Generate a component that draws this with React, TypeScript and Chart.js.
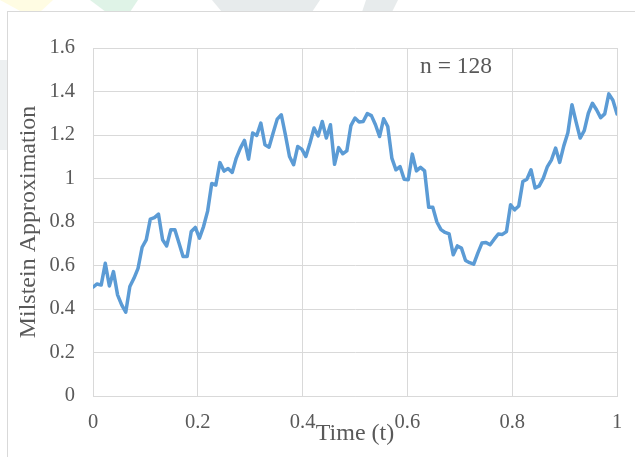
import React, { useEffect, useRef } from "react";
import { Chart, registerables } from "chart.js";

Chart.register(...registerables);

// ---- data ----
const N_STEPS = 128;
const milstein: number[] = [
  0.5, 0.515, 0.51, 0.61, 0.506, 0.572, 0.465, 0.419, 0.385, 0.503,
  0.541, 0.587, 0.684, 0.718, 0.813, 0.82, 0.836, 0.718, 0.69, 0.764,
  0.764, 0.703, 0.641, 0.641, 0.756, 0.775, 0.726, 0.779, 0.85, 0.977,
  0.97, 1.073, 1.034, 1.046, 1.028, 1.094, 1.14, 1.175, 1.089, 1.209,
  1.198, 1.255, 1.155, 1.144, 1.209, 1.273, 1.293, 1.201, 1.101, 1.063,
  1.147, 1.135, 1.101, 1.163, 1.232, 1.196, 1.262, 1.186, 1.247, 1.065,
  1.142, 1.114, 1.127, 1.243, 1.278, 1.26, 1.262, 1.298, 1.289, 1.247,
  1.193, 1.275, 1.239, 1.094, 1.04, 1.055, 0.997, 0.994, 1.112, 1.035,
  1.051, 1.035, 0.868, 0.868, 0.8, 0.765, 0.752, 0.745, 0.649, 0.69,
  0.68, 0.623, 0.613, 0.606, 0.657, 0.703, 0.706, 0.695, 0.721, 0.745,
  0.743, 0.756, 0.879, 0.856, 0.874, 0.986, 0.997, 1.04, 0.956, 0.966,
  1.002, 1.055, 1.086, 1.14, 1.074, 1.15, 1.21, 1.339, 1.26, 1.186,
  1.22, 1.3, 1.346, 1.316, 1.28, 1.297, 1.389, 1.36, 1.297,
];
const times: number[] = milstein.map((_, i) => i / N_STEPS);

const xMin = 0;
const xMax = 1;
const xStep = 0.2;
const yMin = 0;
const yMax = 1.6;
const yStep = 0.2;

const xTitle = "Time (t)";
const yTitle = "Milstein Approximation";
const annotationText = "n = 128";

const FONT = "'Liberation Serif', 'Times New Roman', serif";
const TEXT = "#595959";
const GRID = "#D9D9D9";
const LINE = "#5B9BD5";

const fmt = (v: number | string) => String(Math.round(Number(v) * 10) / 10);

const decorPlugin = {
  id: "decor",
  beforeDraw(chart: any) {
    const { ctx, width, height } = chart;
    ctx.save();
    ctx.fillStyle = "#ffffff";
    ctx.fillRect(0, 0, width, height);
    const poly = (pts: number[][], color: string) => {
      ctx.beginPath();
      ctx.moveTo(pts[0][0], pts[0][1]);
      for (let i = 1; i < pts.length; i++) ctx.lineTo(pts[i][0], pts[i][1]);
      ctx.closePath();
      ctx.fillStyle = color;
      ctx.fill();
    };
    poly([[0, 0], [53, 0], [40, 12], [22, 12]], "#FFFCE3");
    poly([[90, 0], [138, 0], [130, 12], [106, 12]], "#DFF3E7");
    poly([[212, 0], [320, 0], [312, 12], [222, 12]], "#E7EBEC");
    poly([[366, 0], [398, 0], [392, 12], [362, 12]], "#E7EBEC");
    poly([[0, 60], [7, 60], [7, 150], [0, 150]], "#EDF0F1");
    ctx.fillStyle = "#ffffff";
    ctx.fillRect(7.5, 11.5, width, height);
    ctx.strokeStyle = GRID;
    ctx.lineWidth = 1;
    ctx.strokeRect(7.5, 11.5, width + 10, height + 10);
    ctx.restore();
  },
  afterDraw(chart: any) {
    const { ctx } = chart;
    ctx.save();
    ctx.font = `23.5px ${FONT}`;
    ctx.fillStyle = TEXT;
    ctx.textAlign = "left";
    ctx.textBaseline = "alphabetic";
    ctx.fillText(annotationText, 420, 73);
    ctx.restore();
  },
};

export default function App() {
  const canvasRef = useRef<HTMLCanvasElement | null>(null);

  useEffect(() => {
    const canvas = canvasRef.current;
    if (!canvas) return;
    const chart = new Chart(canvas, {
      type: "line",
      data: {
        datasets: [
          {
            label: yTitle,
            data: times.map((t, i) => ({ x: t, y: milstein[i] })),
            borderColor: LINE,
            borderWidth: 3.5,
            pointRadius: 0,
            tension: 0,
            borderJoinStyle: "round",
            borderCapStyle: "round",
            fill: false,
          },
        ],
      },
      options: {
        animation: false,
        responsive: false,
        devicePixelRatio: 1,
        layout: { padding: { top: 48, right: 18, left: 0, bottom: 0 } },
        plugins: {
          legend: { display: false },
          tooltip: { enabled: false },
        },
        scales: {
          x: {
            type: "linear",
            min: xMin,
            max: xMax,
            afterFit: (s: any) => {
              s.height = 61;
              s.paddingLeft = 0;
              s.paddingRight = 0;
            },
            ticks: {
              stepSize: xStep,
              padding: 14,
              color: TEXT,
              font: { family: FONT, size: 20.5 },
              maxRotation: 0,
              callback: (v: any) => fmt(v),
            },
            grid: { color: GRID, lineWidth: 1, drawTicks: false },
            border: { color: GRID, width: 1 },
            title: {
              display: true,
              text: xTitle,
              color: TEXT,
              font: { family: FONT, size: 24 },
              padding: { top: 0, bottom: 8.5 },
            },
          },
          y: {
            type: "linear",
            min: yMin,
            max: yMax,
            afterFit: (s: any) => {
              s.width = 93;
              s.paddingTop = 0;
              s.paddingBottom = 0;
            },
            ticks: {
              stepSize: yStep,
              padding: 18,
              color: TEXT,
              font: { family: FONT, size: 20.5 },
              callback: (v: any) => fmt(v),
            },
            grid: { color: GRID, lineWidth: 1, drawTicks: false },
            border: { color: GRID, width: 1 },
            title: {
              display: true,
              text: yTitle,
              color: TEXT,
              font: { family: FONT, size: 24 },
              padding: { top: 14, bottom: 0 },
            },
          },
        },
      },
      plugins: [decorPlugin],
    });
    return () => chart.destroy();
  }, []);

  return (
    <div style={{ position: "fixed", left: 0, top: 0, width: 635, height: 457 }}>
      <canvas ref={canvasRef} width={635} height={457} style={{ width: 635, height: 457 }} />
    </div>
  );
}
